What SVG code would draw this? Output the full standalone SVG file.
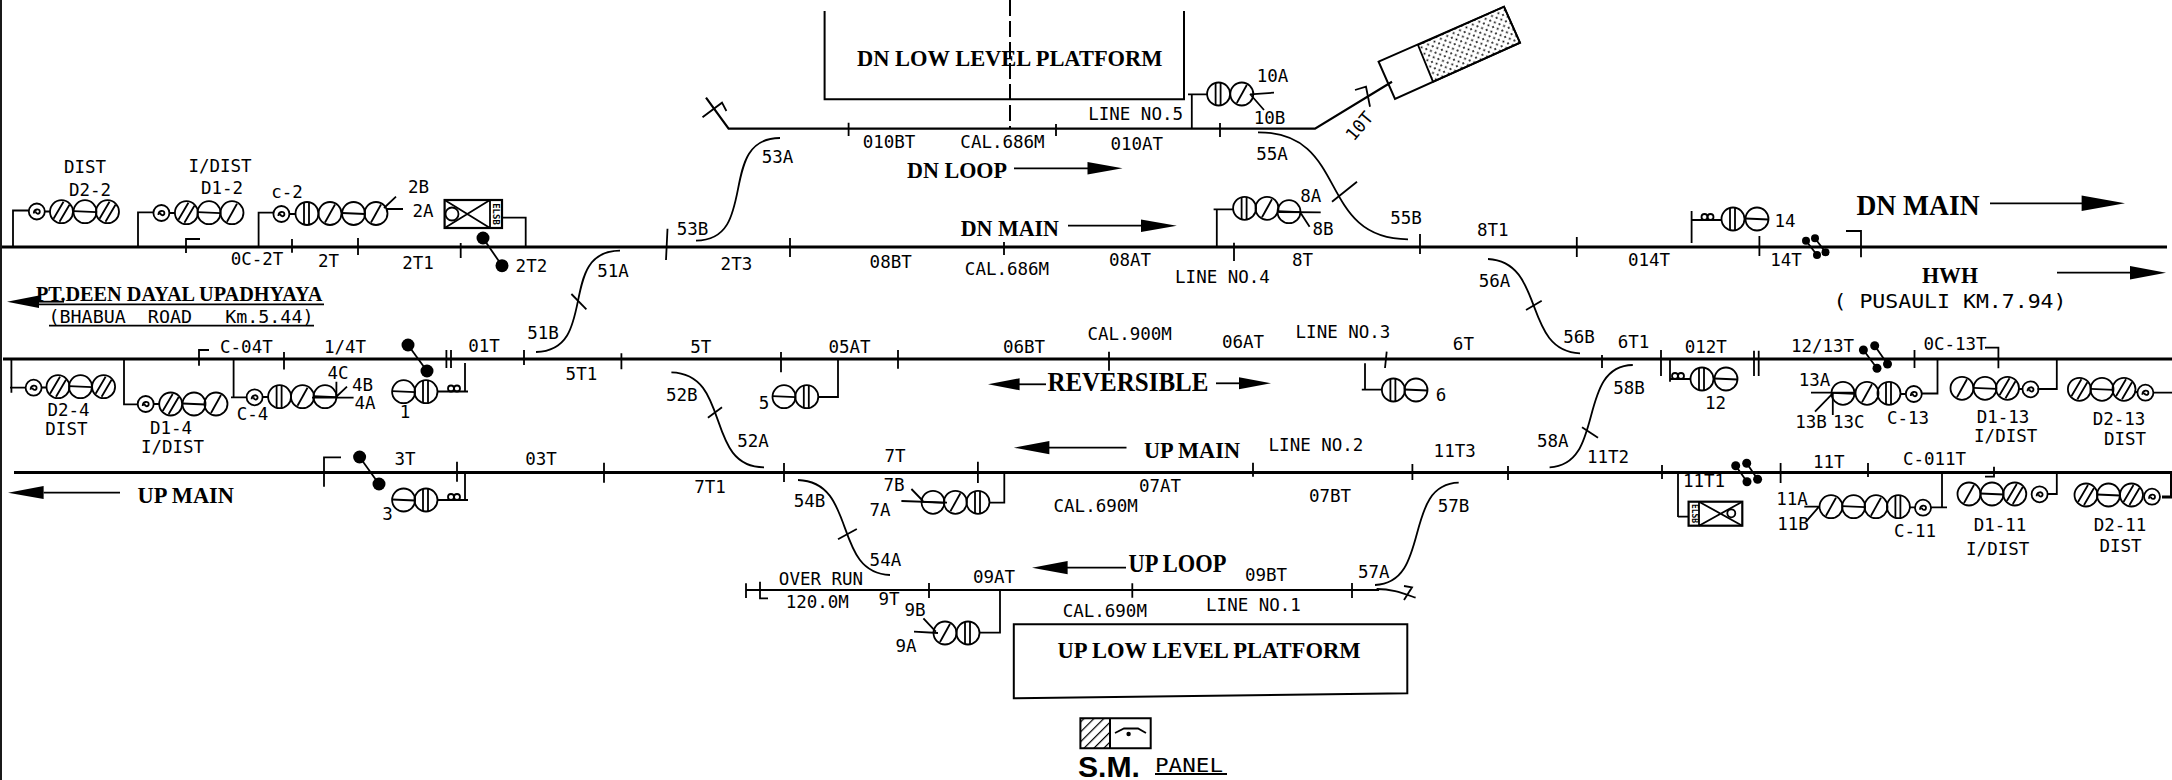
<svg xmlns="http://www.w3.org/2000/svg" width="2172" height="780" viewBox="0 0 2172 780">
<style>
.l{fill:none;stroke:#000;stroke-width:1.8}
.m{fill:none;stroke:#000;stroke-width:3}
.f{fill:#000;stroke:none}
.d{fill:#000;stroke:#000;stroke-width:1.6}
.t{font-family:"DejaVu Sans Mono","Liberation Mono",monospace;font-size:17.5px;text-anchor:middle;fill:#000}
.s{font-family:"Liberation Serif","Times New Roman",serif;font-weight:bold;font-size:24px;fill:#000}
</style>
<defs>
<g id="v"><circle class="l" r="11.5"/><path class="l" d="M-3,-11V11M2,-11V11"/></g>
<g id="h"><circle class="l" r="11.5"/><path class="l" d="M-11.5,-.5L11.5,.5"/></g>
<g id="a"><circle class="l" r="11.5"/><path class="l" d="M-5,9L5,-9"/></g>
<g id="b"><circle class="l" r="11.5"/><path class="l" d="M-8,7L2,-10M-2,10L8,-7"/></g>
<g id="p"><circle class="l" r="8"/><path class="l" stroke-width="1.2" d="M-3,2C-3,-3 3,-3 3,0S-1,3 -1,0"/></g>
<g id="c"><circle class="l" r="3"/><circle class="l" cx="6" r="3"/></g>
<g id="tm"><circle class="f" r="6.5"/></g>
<pattern id="dots" width="7" height="7" patternUnits="userSpaceOnUse" patternTransform="rotate(-24)"><circle cx="2" cy="2" r="1" fill="#000"/><circle cx="5.5" cy="5.5" r="1" fill="#000"/></pattern>
<pattern id="hat" width="7" height="7" patternUnits="userSpaceOnUse" patternTransform="rotate(45)"><path d="M0,0V7" stroke="#000" stroke-width="2.4"/></pattern>
</defs>

<g id="connectors">
<path class="l" stroke-width="2" d="M1,0V780"/>
<path class="m" d="M2,247H2167"/>
<path class="m" d="M3,359H2172"/>
<path class="m" d="M14,472.5H2171.5V497H2162"/>
<path class="l" style="stroke-width:2.2" d="M706,97.7L728.6,128.7H1315L1392,81.7"/>
<path class="l" style="stroke-width:2.2" d="M746,590H1379"/>
<path class="l" d="M702.5,117.3L722,102.7L726.4,111"/>
<path class="l" d="M696,240.7C760,240 716,138 780,138"/>
<path class="l" d="M536,352C600,350 556,251 620,250.7"/>
<path class="l" d="M571.4,294L586.4,309.3"/>
<path class="l" d="M1258,132.3C1350,132 1316,239 1408,239.3"/>
<path class="l" d="M1332,201.7L1357,181.7"/>
<path class="l" d="M1488,259C1546,262 1522,351 1580,353.3"/>
<path class="l" d="M1526,310L1541.7,300.7"/>
<path class="l" d="M671.4,372.3C732,374 704,467 764,467.3"/>
<path class="l" d="M707.9,417.7L722,407.3"/>
<path class="l" d="M798,480C858,482 832,573 890,575"/>
<path class="l" d="M838,539.3L856.8,529"/>
<path class="l" d="M1458.7,482.7C1402,484 1432,583 1375,585"/>
<path class="l" d="M1549.6,467.3C1606,465 1576,366 1632.8,365"/>
<path class="l" d="M1582,427.3L1598,437.7"/>
<path class="l" d="M1376.6,589C1392,589 1402,593 1415.6,597.7M1404,586L1412,587.3L1404,600"/>
<path class="l" d="M746,583.3V598M760,581.7V598.3H768"/>
<path class="l" d="M292,239V252.7M358,238V255M460.7,243V258M667.5,228.7L666,260M790,238V257M1004,242V255M1234,242.7V261M1420,234V254M1576.8,237V257M1759.4,236V256"/>
<path class="l" d="M186,253V239H200M1846,231H1861V257.3"/>
<path class="l" d="M199,365.7V350H209M284,352V369.5M446.4,350V368M451,350V368M524,350V365M621.4,353.3V369.3M781,352V372.3M898,350V368.7M1109,351.7V370.7M1386.7,351.7L1385,368M1602,355V368M1661,350V376M1754,350.7V376M1758.7,350.7V376M1914.5,350V368M1985,347.7H1998.4V368.3"/>
<path class="l" d="M324,486.7V457.3H341M457,461.7V481.7M604,462.7V482.7M784,463V482M977.9,461.7V483M1253,462.7V476.7M1412.4,464V480M1508,466V480M1662,465V479M1780.6,463V483M1868,463V477M1985,476.7H1994V466.7"/>
<path class="l" d="M848.6,122.7V136M1056,124V136M1220,123V137M929,583V598M1132.3,583.3V597.7M1352,583V598"/>
<path class="l" stroke-dasharray="16 5" style="stroke-width:2" d="M1010,0V128"/>
<path class="l" d="M483,238L502,265.7"/><use href="#tm" x="483" y="238"/><use href="#tm" x="502" y="265.7"/>
<path class="l" d="M408,345L427,371"/><use href="#tm" x="408" y="345"/><use href="#tm" x="427" y="371"/>
<path class="l" d="M359.6,457L379,484"/><use href="#tm" x="359.6" y="457"/><use href="#tm" x="379" y="484"/>
<path class="l" d="M1806,240.7L1817,255M1815,238.3L1825.5,252.3"/><circle class="f" cx="1806" cy="240.7" r="4"/><circle class="f" cx="1815" cy="238.3" r="4"/><circle class="f" cx="1817" cy="255" r="4"/><circle class="f" cx="1825.5" cy="252.3" r="4"/>
<path class="l" d="M1863.4,350L1877,368.3M1874.7,345.7L1887.5,364"/><circle class="f" cx="1863.4" cy="350" r="4.5"/><circle class="f" cx="1874.7" cy="345.7" r="4.5"/><circle class="f" cx="1877" cy="368.3" r="4.5"/><circle class="f" cx="1887.5" cy="364" r="4.5"/>
<path class="l" d="M1735.7,465.7L1747,481.7M1746.7,463.3L1757.6,479.3"/><circle class="f" cx="1735.7" cy="465.7" r="4.5"/><circle class="f" cx="1746.7" cy="463.3" r="4.5"/><circle class="f" cx="1747" cy="481.7" r="4.5"/><circle class="f" cx="1757.6" cy="479.3" r="4.5"/>
<path class="l" d="M39,301.7H64"/><path class="f" d="M7,301.7L39,295.5V308Z"/>
<path class="l" d="M43.6,492.7H120"/><path class="f" d="M8,492.7L43.6,486V499Z"/>
<path class="l" d="M1014,168.3H1090"/><path class="f" d="M1122.5,168.3L1087.5,162V174.5Z"/>
<path class="l" d="M1068,225.7H1145"/><path class="f" d="M1176.8,225.7L1141,219.5V232Z"/>
<path class="l" d="M1990,203.3H2085"/><path class="f" d="M2125,203.3L2081.6,195.5V211Z"/>
<path class="l" d="M2057,272.7H2132"/><path class="f" d="M2166,272.7L2130,266V279.5Z"/>
<path class="l" d="M1018,384.3H1046"/><path class="f" d="M988,384.3L1019.6,378.3V390.3Z"/>
<path class="l" d="M1216,383.3H1241"/><path class="f" d="M1271,383.3L1239,377.3V389.3Z"/>
<path class="l" d="M1048,447.7H1126.5"/><path class="f" d="M1013.8,447.7L1049.4,441V454.3Z"/>
<path class="l" d="M1066,567.7H1126"/><path class="f" d="M1032,567.7L1067.6,561V574.3Z"/>
<path class="l" d="M36,304.3H324M49,325.7H314M1155,774H1227"/>
</g>

<g id="platform-dn">
<path class="l" style="stroke-width:2" d="M824.6,11V99.3H1184V11"/>
<text class="s" x="857" y="65.7" textLength="305.5" lengthAdjust="spacingAndGlyphs">DN LOW LEVEL PLATFORM</text>
</g>
<g id="platform-up">
<path class="l" style="stroke-width:2" d="M1013.8,624.3H1407.3V693.3L1013.8,698.3Z"/>
<text class="s" x="1057.5" y="657.7" textLength="303" lengthAdjust="spacingAndGlyphs">UP LOW LEVEL PLATFORM</text>
</g>
<g id="dead-end-10T">
<path class="l" style="stroke-width:2" d="M1378.6,61.7L1504,6.7L1520,42.7L1395,99Z"/>
<path d="M1418,45L1504,6.7L1520,42.7L1433,81.7Z" class="l" style="fill:url(#dots)"/>
<path class="l" d="M1355,90L1366,86.7L1370,106.7"/>
<text class="t" transform="translate(1364,130) rotate(-50)">10T</text>
</g>
<g id="sm-panel">
<rect x="1080.4" y="718.3" width="29.6" height="30" fill="url(#hat)"/>
<path class="l" style="stroke-width:2" d="M1080.4,718.3H1150.7V748.3H1080.4ZM1110,718.3V748.3"/>
<path class="l" d="M1115,733L1124,728.5H1138L1146,733"/><circle class="f" cx="1128.6" cy="734" r="2.2"/>
<text x="1078" y="776.7" font-family="Liberation Sans,Arial,sans-serif" font-weight="bold" font-size="30" textLength="62" lengthAdjust="spacingAndGlyphs">S.M.</text>
<text class="t" x="1189" y="771.7" style="font-size:19px" textLength="68" lengthAdjust="spacingAndGlyphs">PANEL</text>
</g>

<g id="signal-D2-2"><path class="l" d="M13,247V210.5H29M45,211.5H50"/><use href="#p" x="36.8" y="211.5"/><use href="#b" x="61.5" y="211.7"/><use href="#h" x="85" y="211.7"/><use href="#b" x="107.5" y="211.7"/><text class="t" x="85" y="173">DIST</text><text class="t" x="90" y="195.7">D2-2</text></g>
<g id="signal-D1-2"><path class="l" d="M138,247V212.3H153M169,213H175"/><use href="#p" x="161.4" y="213"/><use href="#b" x="186.4" y="212.7"/><use href="#h" x="209" y="212.7"/><use href="#a" x="232" y="212.7"/><text class="t" x="220" y="172">I/DIST</text><text class="t" x="222" y="194">D1-2</text></g>
<g id="signal-2"><path class="l" d="M258.6,247V212.7H273.4M289.4,214H295.5M387,209H403M384,208L396,196.7"/><use href="#p" x="281.4" y="214"/><use href="#v" x="307" y="213.5"/><use href="#a" x="330" y="213.5"/><use href="#h" x="353.6" y="213.5"/><use href="#a" x="376" y="213.5"/><text class="t" x="287" y="198">c-2</text><text class="t" x="418.6" y="192.7">2B</text><text class="t" x="423" y="216.7">2A</text></g>
<g id="box-2"><rect class="l" style="stroke-width:2.2" x="444.6" y="200" width="57.4" height="28"/><path class="l" d="M490,200V228M444.6,200L490,228M444.6,228L490,200M502,217.7H525.7V247"/><circle class="l" cx="452" cy="214" r="6.5"/><text class="t" style="font-size:9px;font-weight:bold" transform="translate(493,214) rotate(90)">ELSB</text></g>

<g id="signal-D2-4"><path class="l" d="M11.4,359V392.7M10,387.7H25.7M41.6,387.5H46.5"/><use href="#p" x="33.6" y="387.7"/><use href="#b" x="58" y="386.7"/><use href="#h" x="80.5" y="386.7"/><use href="#b" x="103.6" y="386.7"/><text class="t" x="68.6" y="416">D2-4</text><text class="t" x="66.4" y="435">DIST</text></g>
<g id="signal-D1-4"><path class="l" d="M124,359V404.3H138M153.7,404H159"/><use href="#p" x="145.7" y="404"/><use href="#b" x="170.7" y="404"/><use href="#h" x="194" y="404"/><use href="#a" x="216" y="404"/><text class="t" x="171" y="434">D1-4</text><text class="t" x="172.5" y="452.7">I/DIST</text></g>
<g id="signal-4"><path class="l" d="M233.6,359V397.3M231,397.3H246.6M262.6,397H268M312,397.7H353.6M336.4,397V381.7M336,397L347,386.7"/><use href="#p" x="254.6" y="397.3"/><use href="#v" x="279.6" y="396.7"/><use href="#a" x="302.5" y="396.7"/><use href="#h" x="325" y="396.7"/><text class="t" x="338" y="379.3">4C</text><text class="t" x="362.5" y="391">4B</text><text class="t" x="365" y="409">4A</text><text class="t" x="252.5" y="420">C-4</text></g>
<g id="signal-1"><path class="l" d="M437.5,391.5H468M465,363V392"/><use href="#h" x="403.6" y="391.7"/><use href="#v" x="426" y="391.7"/><use href="#c" x="451" y="388.5"/><text class="t" x="405" y="418">1</text></g>
<g id="signal-3"><path class="l" d="M437.5,500H468M465,472V501"/><use href="#h" x="403.6" y="500"/><use href="#v" x="426" y="500"/><use href="#c" x="451" y="497"/><text class="t" x="387.5" y="520">3</text></g>
<g id="signal-5"><path class="l" d="M838,359V398M818.6,397H838"/><use href="#h" x="784" y="396.7"/><use href="#v" x="806.8" y="396.7"/><text class="t" x="764" y="409">5</text></g>
<g id="signal-6"><path class="l" d="M1365,363.3V389.7M1361.8,389.7H1381.6"/><use href="#v" x="1393.4" y="390"/><use href="#h" x="1416" y="390"/><text class="t" x="1441" y="400.7">6</text></g>
<g id="signal-7"><path class="l" d="M1004.3,472.5V502.7H989M901.4,501L947,502.7M911.4,489L923,501"/><use href="#h" x="933" y="502.3"/><use href="#a" x="955.4" y="502.3"/><use href="#v" x="978" y="502.3"/><text class="t" x="894" y="491">7B</text><text class="t" x="880" y="515.7">7A</text></g>
<g id="signal-8"><path class="l" d="M1216.8,247V209.3M1213.6,209.3H1233M1278.6,212L1320.7,212.3M1300,212L1309.6,226.7"/><use href="#v" x="1244.6" y="208.3"/><use href="#a" x="1267" y="208.3"/><use href="#h" x="1289" y="211.7"/><text class="t" x="1310.7" y="202.3">8A</text><text class="t" x="1323" y="235">8B</text></g>
<g id="signal-9"><path class="l" d="M1000,590V632.7H979.4M914,631.7L938,633M923.4,618.3L935.8,631.7"/><use href="#a" x="945" y="633"/><use href="#v" x="968" y="633"/><text class="t" x="915" y="615.7">9B</text><text class="t" x="906" y="651.7">9A</text></g>
<g id="signal-10"><path class="l" d="M1191.8,128.7V94.3M1188,94.3H1207M1250,94.3L1274,92.7M1250,94L1264,110"/><use href="#v" x="1218.6" y="94"/><use href="#a" x="1241.8" y="94"/><text class="t" x="1272.5" y="81.7">10A</text><text class="t" x="1269.6" y="124">10B</text></g>
<g id="signal-11"><path class="l" d="M1942,472.5V507.3M1947,507.3H1931M1915,507.3H1910M1804.3,506.7H1819.5M1806,521.7L1819,506.7"/><use href="#a" x="1831" y="506.7"/><use href="#h" x="1853.6" y="506.7"/><use href="#a" x="1876" y="506.7"/><use href="#v" x="1898.4" y="506.7"/><use href="#p" x="1923" y="507.7"/><text class="t" x="1792" y="505">11A</text><text class="t" x="1793" y="530">11B</text><text class="t" x="1915" y="536.7">C-11</text></g>
<g id="signal-12"><path class="l" d="M1670,359V381.7M1670,379H1691"/><use href="#c" x="1675" y="376"/><use href="#v" x="1702" y="379"/><use href="#h" x="1726" y="379"/><text class="t" x="1715.6" y="409.3">12</text></g>
<g id="signal-13"><path class="l" d="M1937.5,359V393.5H1921.8M1906,394H1900.5M1811,392.7H1854M1833.5,392.7L1815,411.7M1832.8,392.7V415"/><use href="#h" x="1843" y="393.3"/><use href="#a" x="1867" y="393.3"/><use href="#v" x="1889" y="393.3"/><use href="#p" x="1913.8" y="394"/><text class="t" x="1814.5" y="385.7">13A</text><text class="t" x="1811" y="428.3">13B</text><text class="t" x="1848.8" y="428.3">13C</text><text class="t" x="1908" y="424">C-13</text></g>
<g id="signal-14"><path class="l" d="M1691.6,211V243M1691.6,220H1722"/><use href="#c" x="1704.5" y="217"/><use href="#v" x="1733" y="219"/><use href="#h" x="1757" y="219"/><text class="t" x="1785" y="226.7">14</text></g>
<g id="signal-D1-13"><path class="l" d="M2056.8,359V389H2037.5M2023,389H2019"/><use href="#a" x="1962" y="388.3"/><use href="#h" x="1985" y="388.3"/><use href="#b" x="2007.5" y="388.3"/><use href="#p" x="2030.5" y="389.3"/><text class="t" x="2003" y="422.7">D1-13</text><text class="t" x="2005.7" y="441.7">I/DIST</text></g>
<g id="signal-D2-13"><path class="l" d="M2172,392.7H2153.4M2137.4,392H2135.5"/><use href="#b" x="2079.4" y="389.3"/><use href="#h" x="2102" y="389.3"/><use href="#b" x="2124" y="389.3"/><use href="#p" x="2145.4" y="392.7"/><text class="t" x="2119" y="425">D2-13</text><text class="t" x="2125" y="445">DIST</text></g>
<g id="signal-D1-11"><path class="l" d="M2056.8,472.5V494H2047"/><use href="#a" x="1969" y="494"/><use href="#h" x="1992" y="494"/><use href="#b" x="2014.8" y="494"/><use href="#p" x="2039.6" y="494.3"/><text class="t" x="2000" y="531">D1-11</text><text class="t" x="1997.7" y="555">I/DIST</text></g>
<g id="signal-D2-11"><use href="#b" x="2086" y="495"/><use href="#h" x="2108.5" y="495"/><use href="#b" x="2131.5" y="495"/><use href="#p" x="2152" y="496.7"/><text class="t" x="2120" y="531">D2-11</text><text class="t" x="2120.6" y="552">DIST</text></g>
<g id="box-11"><rect class="l" style="stroke-width:2.2" x="1688.6" y="501.7" width="53.7" height="24"/><path class="l" d="M1699,501.7V525.7M1699,501.7L1742.3,525.7M1699,525.7L1742.3,501.7M1678,472.5V517M1678,516.7H1688.6"/><circle class="l" cx="1731.3" cy="513.3" r="4"/><text class="t" style="font-size:8px;font-weight:bold" transform="translate(1691.5,513.5) rotate(90)">ELSB</text></g>

<g id="labels">
<text class="s" x="36" y="301" style="font-size:20px" textLength="286.5" lengthAdjust="spacingAndGlyphs">PT.DEEN DAYAL UPADHYAYA</text>
<text class="t" x="181" y="323" style="font-size:18.5px;white-space:pre" textLength="265" lengthAdjust="spacingAndGlyphs">(BHABUA  ROAD   Km.5.44)</text>
<text class="s" x="137.5" y="502.7" textLength="96.5" lengthAdjust="spacingAndGlyphs">UP MAIN</text>
<text class="s" x="907" y="177.7" textLength="100" lengthAdjust="spacingAndGlyphs">DN LOOP</text>
<text class="s" x="960.7" y="236" textLength="98.3" lengthAdjust="spacingAndGlyphs">DN MAIN</text>
<text class="s" x="1856.5" y="215" style="font-size:30px" textLength="123" lengthAdjust="spacingAndGlyphs">DN MAIN</text>
<text class="s" x="1922" y="283" textLength="56" lengthAdjust="spacingAndGlyphs">HWH</text>
<text class="t" x="1950" y="308" style="font-size:20px;white-space:pre" textLength="233" lengthAdjust="spacingAndGlyphs">( PUSAULI KM.7.94)</text>
<text class="s" x="1047.4" y="391" textLength="161" lengthAdjust="spacingAndGlyphs" style="font-size:27px">REVERSIBLE</text>
<text class="s" x="1144" y="457.7" textLength="96" lengthAdjust="spacingAndGlyphs">UP MAIN</text>
<text class="s" x="1128.6" y="571.7" style="font-size:25px" textLength="97.8" lengthAdjust="spacingAndGlyphs">UP LOOP</text>

<text class="t" x="257" y="265">0C-2T</text><text class="t" x="328.6" y="267">2T</text><text class="t" x="418" y="269">2T1</text><text class="t" x="531.4" y="271.7">2T2</text>
<text class="t" x="246.4" y="353.3">C-04T</text><text class="t" x="345" y="353">1/4T</text><text class="t" x="484" y="351.7">01T</text>
<text class="t" x="405" y="465">3T</text><text class="t" x="541" y="465">03T</text>
<text class="t" x="889" y="148">010BT</text><text class="t" x="1002.5" y="147.7">CAL.686M</text><text class="t" x="1136.8" y="150">010AT</text><text class="t" x="1135.6" y="120">LINE NO.5</text>
<text class="t" x="777.5" y="162.7">53A</text><text class="t" x="692.5" y="235">53B</text><text class="t" x="613" y="276.7">51A</text><text class="t" x="543" y="339">51B</text>
<text class="t" x="736.4" y="270">2T3</text><text class="t" x="890.7" y="268">08BT</text><text class="t" x="1007" y="275">CAL.686M</text>
<text class="t" x="1272" y="160">55A</text><text class="t" x="1406" y="224">55B</text><text class="t" x="1130" y="266">08AT</text><text class="t" x="1302.5" y="266">8T</text><text class="t" x="1222.5" y="282.7">LINE NO.4</text><text class="t" x="1492.8" y="236">8T1</text><text class="t" x="1649" y="266">014T</text><text class="t" x="1786" y="266">14T</text>
<text class="t" x="1494.6" y="286.7">56A</text><text class="t" x="1579" y="342.7">56B</text>
<text class="t" x="1633.6" y="348.3">6T1</text><text class="t" x="1705.8" y="353.3">012T</text><text class="t" x="1822.5" y="352">12/13T</text><text class="t" x="1955" y="350">0C-13T</text>
<text class="t" x="700.7" y="353">5T</text><text class="t" x="849.6" y="353">05AT</text><text class="t" x="1024" y="353">06BT</text><text class="t" x="581.4" y="380">5T1</text>
<text class="t" x="681.8" y="401">52B</text><text class="t" x="753" y="447.3">52A</text><text class="t" x="895" y="462.3">7T</text><text class="t" x="710" y="493.3">7T1</text>
<text class="t" x="809.6" y="507.3">54B</text><text class="t" x="885.4" y="565.7">54A</text>
<text class="t" x="1129.7" y="340">CAL.900M</text><text class="t" x="1243" y="348.3">06AT</text><text class="t" x="1343" y="338.3">LINE NO.3</text><text class="t" x="1463.4" y="350">6T</text>
<text class="t" x="1316" y="450.7">LINE NO.2</text><text class="t" x="1454.7" y="456.7">11T3</text><text class="t" x="1160" y="492.3">07AT</text><text class="t" x="1095.7" y="512.3">CAL.690M</text><text class="t" x="1330" y="501.7">07BT</text>
<text class="t" x="1453.5" y="511.7">57B</text><text class="t" x="1373.8" y="577.7">57A</text><text class="t" x="1552.8" y="446.7">58A</text><text class="t" x="1629" y="394">58B</text><text class="t" x="1608" y="462.7">11T2</text>
<text class="t" x="1704" y="487">11T1</text><text class="t" x="1828.7" y="468.3">11T</text><text class="t" x="1934.5" y="465">C-011T</text>
<text class="t" x="821" y="585">OVER RUN</text><text class="t" x="817.3" y="608.3">120.0M</text><text class="t" x="889" y="605">9T</text><text class="t" x="994" y="583.3">09AT</text><text class="t" x="1266" y="581">09BT</text><text class="t" x="1104.8" y="616.7">CAL.690M</text><text class="t" x="1253.5" y="611">LINE NO.1</text>
</g>
</svg>
